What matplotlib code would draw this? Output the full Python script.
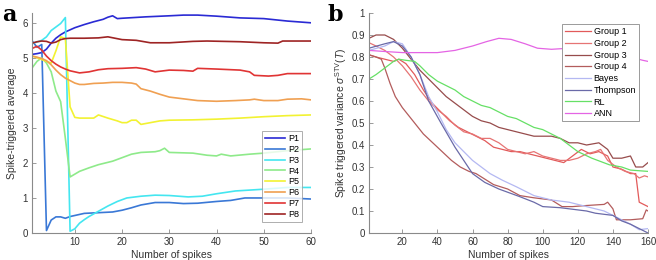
import matplotlib
matplotlib.use("Agg")
import matplotlib.pyplot as plt

plt.rcParams['font.family'] = ['Liberation Sans', 'DejaVu Sans']
plt.rcParams['mathtext.fontset'] = 'custom'
plt.rcParams['mathtext.rm'] = 'Liberation Sans'
plt.rcParams['mathtext.it'] = 'Liberation Sans:italic'

# ---- panel a: spike-triggered average per participant ----
p1_x = [1, 2, 3, 4, 5, 6, 7, 8, 9, 10, 12, 14, 16, 17, 18, 19, 20, 25, 30, 33, 36, 40, 45, 50, 55, 60]
p1_y = [5.1, 5.12, 5.15, 5.25, 5.42, 5.56, 5.66, 5.74, 5.8, 5.86, 5.95, 6.03, 6.1, 6.16, 6.2, 6.12, 6.13,
        6.17, 6.2, 6.22, 6.22, 6.19, 6.14, 6.12, 6.05, 6.0]
p2_x = [1, 2, 3, 4, 5, 6, 7, 8, 9, 10, 12, 15, 18, 20, 22, 24, 27, 30, 33, 36, 40, 43, 46, 50, 55, 60]
p2_y = [5.48, 5.3, 5.38, 0.07, 0.37, 0.46, 0.46, 0.42, 0.47, 0.5, 0.56, 0.58, 0.6, 0.65, 0.72, 0.8, 0.87,
        0.87, 0.84, 0.85, 0.9, 0.93, 1.0, 1.0, 1.0, 0.97]
p3_x = [1, 2, 3, 4, 5, 6, 7, 8, 9, 10, 11, 12, 13, 15, 17, 19, 21, 24, 27, 30, 34, 37, 40, 44, 50, 55, 60]
p3_y = [5.42, 5.45, 5.5, 5.6, 5.78, 5.88, 5.98, 6.15, 0.05, 0.12, 0.28, 0.38, 0.47, 0.62, 0.77, 0.9, 1.0,
        1.05, 1.08, 1.07, 1.03, 1.05, 1.12, 1.2, 1.25, 1.3, 1.3]
p4_x = [1, 2, 3, 4, 5, 6, 7, 8, 9, 10, 11, 13, 15, 18, 20, 22, 24, 27, 28, 29, 30, 35, 38, 40, 41, 43,
        47, 50, 55, 60]
p4_y = [4.72, 4.9, 5.0, 4.85, 4.6, 4.05, 3.75, 2.7, 1.6, 1.68, 1.76, 1.86, 1.95, 2.05, 2.15, 2.25, 2.3,
        2.32, 2.35, 2.42, 2.3, 2.28, 2.22, 2.2, 2.25, 2.2, 2.25, 2.28, 2.35, 2.4]
p5_x = [1, 2, 3, 4, 5, 6, 7, 8, 9, 10, 11, 14, 15, 17, 19, 20, 21, 22, 23, 24, 26, 28, 30, 35, 40, 45,
        50, 55, 60]
p5_y = [5.05, 5.0, 4.95, 4.9, 4.85, 5.2, 5.6, 5.55, 3.6, 3.3, 3.28, 3.28, 3.37, 3.28, 3.2, 3.15, 3.15,
        3.22, 3.22, 3.1, 3.15, 3.2, 3.22, 3.23, 3.25, 3.28, 3.32, 3.35, 3.37]
p6_x = [1, 2, 3, 4, 5, 6, 7, 8, 9, 10, 11, 12, 14, 16, 18, 20, 22, 23, 24, 26, 28, 30, 33, 36, 40, 44,
        47, 48, 50, 53, 55, 58, 60]
p6_y = [5.05, 5.02, 4.98, 4.92, 4.8, 4.65, 4.52, 4.42, 4.35, 4.28, 4.24, 4.24, 4.27, 4.28, 4.3, 4.3,
        4.28, 4.25, 4.12, 4.05, 3.96, 3.88, 3.83, 3.78, 3.76, 3.78, 3.8, 3.82, 3.78, 3.78, 3.82, 3.83, 3.8]
p7_x = [1, 2, 3, 4, 5, 6, 7, 8, 9, 11, 13, 15, 17, 20, 23, 25, 27, 30, 33, 35, 36, 40, 45, 47, 48, 51,
        53, 55, 60]
p7_y = [5.27, 5.33, 5.22, 5.05, 4.92, 4.82, 4.74, 4.68, 4.63, 4.57, 4.6, 4.66, 4.69, 4.7, 4.72, 4.68,
        4.6, 4.65, 4.64, 4.62, 4.7, 4.68, 4.65, 4.6, 4.5, 4.48, 4.5, 4.55, 4.55]
p8_x = [1, 2, 3, 4, 5, 6, 7, 8, 9, 12, 15, 17, 20, 23, 26, 30, 35, 38, 45, 50, 53, 54, 60]
p8_y = [5.42, 5.46, 5.48, 5.47, 5.42, 5.45, 5.52, 5.55, 5.56, 5.56, 5.57, 5.6, 5.52, 5.5, 5.43, 5.43,
        5.47, 5.48, 5.46, 5.43, 5.42, 5.48, 5.48]

a_labels = ['P1', 'P2', 'P3', 'P4', 'P5', 'P6', 'P7', 'P8']
a_colors = ['#2a2ad4', '#3a78d6', '#44e6f0', '#8eea8a', '#f2f232', '#f0a052', '#e03434', '#9e2424']

# ---- panel b: spike triggered variance per group / model ----
g1_x = [1, 5, 10, 15, 18, 22, 27, 32, 37, 42, 47, 52, 57, 62, 67, 72, 77, 82, 87, 92, 97, 102, 107,
        112, 117, 122, 127, 132, 137, 140, 145, 150, 153, 155, 160]
g1_y = [0.81, 0.8, 0.79, 0.78, 0.79, 0.77, 0.72, 0.65, 0.59, 0.55, 0.51, 0.48, 0.46, 0.44, 0.42, 0.39,
        0.38, 0.37, 0.37, 0.36, 0.35, 0.34, 0.33, 0.32, 0.35, 0.38, 0.36, 0.37, 0.35, 0.3, 0.29, 0.27,
        0.27, 0.14, 0.12]
g2_x = [1, 5, 10, 15, 20, 25, 30, 35, 40, 45, 50, 55, 60, 65, 70, 75, 80, 85, 90, 95, 100, 105, 110,
        115, 120, 125, 130, 133, 137, 142, 147, 152, 155, 158, 160]
g2_y = [0.865, 0.85, 0.83, 0.8, 0.76, 0.71, 0.65, 0.6, 0.56, 0.53, 0.49, 0.46, 0.45, 0.43, 0.43, 0.41,
        0.38, 0.37, 0.36, 0.37, 0.35, 0.34, 0.33, 0.33, 0.34, 0.36, 0.37, 0.38, 0.33, 0.3, 0.28, 0.27,
        0.25, 0.26, 0.255]
g3_x = [1, 5, 10, 15, 20, 25, 30, 35, 40, 45, 50, 55, 60, 65, 70, 75, 80, 85, 90, 95, 100, 105, 110,
        115, 120, 125, 132, 137, 140, 145, 150, 153, 157, 160]
g3_y = [0.885, 0.9, 0.9, 0.88, 0.84, 0.79, 0.74, 0.7, 0.66, 0.62, 0.59, 0.56, 0.53, 0.51, 0.5, 0.48,
        0.47, 0.46, 0.45, 0.44, 0.44, 0.44, 0.43, 0.41, 0.41, 0.4, 0.41, 0.38, 0.34, 0.34, 0.35, 0.3,
        0.3, 0.32]
g4_x = [1, 5, 8, 10, 13, 16, 20, 24, 28, 32, 36, 40, 44, 48, 53, 58, 62, 66, 72, 80, 87, 95, 105, 111,
        117, 125, 135, 137, 140, 142, 150, 157, 159, 160]
g4_y = [0.81, 0.8, 0.79, 0.75, 0.68, 0.62, 0.57, 0.53, 0.49, 0.45, 0.42, 0.39, 0.36, 0.33, 0.3, 0.28,
        0.27, 0.25, 0.22, 0.2, 0.17, 0.16, 0.15, 0.12, 0.12, 0.125, 0.13, 0.14, 0.11, 0.06, 0.06, 0.065,
        0.105, 0.1]
bayes_x = [1, 10, 15, 20, 25, 30, 35, 40, 45, 50, 55, 60, 65, 70, 77, 85, 90, 95, 100, 105, 115, 120,
           125, 135, 140, 145, 150, 155, 160]
bayes_y = [0.83, 0.85, 0.87, 0.86, 0.8, 0.72, 0.62, 0.55, 0.47, 0.41, 0.37, 0.33, 0.3, 0.27, 0.24, 0.21,
           0.19, 0.17, 0.16, 0.15, 0.14, 0.13, 0.12, 0.1, 0.08, 0.06, 0.04, 0.015, 0.02]
thomp_x = [1, 10, 15, 20, 25, 30, 35, 42, 50, 55, 60, 67, 75, 87, 95, 100, 110, 115, 125, 130, 140, 145,
           150, 155, 160]
thomp_y = [0.84, 0.86, 0.87, 0.85, 0.8, 0.72, 0.6, 0.5, 0.39, 0.33, 0.27, 0.23, 0.2, 0.165, 0.14, 0.12,
           0.115, 0.11, 0.1, 0.09, 0.08, 0.055, 0.04, 0.02, 0.0]
rl_x = [1, 5, 10, 15, 18, 22, 27, 30, 35, 40, 45, 50, 55, 60, 65, 70, 75, 80, 85, 90, 95, 100, 105, 110,
        115, 120, 128, 138, 145, 150, 155, 160]
rl_y = [0.7, 0.72, 0.75, 0.78, 0.79, 0.785, 0.78, 0.76, 0.72, 0.69, 0.67, 0.65, 0.62, 0.6, 0.58, 0.57,
        0.55, 0.53, 0.52, 0.5, 0.48, 0.47, 0.45, 0.43, 0.4, 0.37, 0.34, 0.31, 0.3, 0.286, 0.283, 0.28]
ann_x = [1, 10, 20, 30, 40, 50, 60, 68, 75, 82, 90, 97, 105, 115, 120, 140, 150, 157, 160]
ann_y = [0.83, 0.825, 0.82, 0.82, 0.82, 0.83, 0.85, 0.87, 0.885, 0.88, 0.86, 0.84, 0.835, 0.84, 0.84,
         0.82, 0.8, 0.785, 0.78]

b_labels = ['Group 1', 'Group 2', 'Group 3', 'Group 4', 'Bayes', 'Thompson', 'RL', 'ANN']
b_colors = ['#e25a5a', '#e67474', '#974c4c', '#b35c5c', '#b4b8f2', '#6a6aa8', '#66e066', '#e464e4']

a_series = [(p1_x, p1_y), (p2_x, p2_y), (p3_x, p3_y), (p4_x, p4_y),
            (p5_x, p5_y), (p6_x, p6_y), (p7_x, p7_y), (p8_x, p8_y)]
b_series = [(g1_x, g1_y), (g2_x, g2_y), (g3_x, g3_y), (g4_x, g4_y),
            (bayes_x, bayes_y), (thomp_x, thomp_y), (rl_x, rl_y), (ann_x, ann_y)]

fig = plt.figure(figsize=(6.56, 2.6), dpi=100)
ax_a = fig.add_axes([32.3 / 656, 27 / 260, (311 - 32.3) / 656, 220 / 260])
ax_b = fig.add_axes([369 / 656, 27 / 260, (648 - 369) / 656, 220 / 260])


def style(ax):
    for s in ['top', 'right']:
        ax.spines[s].set_visible(False)
    for s in ['left', 'bottom']:
        ax.spines[s].set_color('#8a8a8a')
        ax.spines[s].set_linewidth(0.8)
    ax.tick_params(direction='in', length=3, width=0.6, colors='#8a8a8a',
                   labelcolor='#333333', labelsize=7, pad=3)


for (xs, ys), lab, c in zip(a_series, a_labels, a_colors):
    ax_a.plot(xs, ys, color=c, lw=1.2, label=lab)
ax_a.set_xlim(1, 60)
ax_a.set_ylim(0, 6.28)
ax_a.set_xticks([10, 20, 30, 40, 50, 60])
ax_a.set_yticks([0, 1, 2, 3, 4, 5, 6])
style(ax_a)
ax_a.set_xlabel('Number of spikes', fontsize=7.5, color='#333333', labelpad=2)
ax_a.set_ylabel('Spike-triggered average', fontsize=7.5, color='#333333', labelpad=4)
leg_a = ax_a.legend(loc='lower right', bbox_to_anchor=(0.985, 0.03), fontsize=6.5, frameon=True,
                    fancybox=False, edgecolor='#9a9a9a', handlelength=2.2, handletextpad=0.3,
                    labelspacing=0.2, borderpad=0.35)
leg_a.get_frame().set_linewidth(0.7)

for (xs, ys), lab, c in zip(b_series, b_labels, b_colors):
    ax_b.plot(xs, ys, color=c, lw=0.9, label=lab)
ax_b.set_xlim(1, 160)
ax_b.set_ylim(0, 1)
ax_b.set_xticks([20, 40, 60, 80, 100, 120, 140, 160])
ax_b.set_yticks([0, 0.1, 0.2, 0.3, 0.4, 0.5, 0.6, 0.7, 0.8, 0.9, 1])
ax_b.set_yticklabels(['0', '0.1', '0.2', '0.3', '0.4', '0.5', '0.6', '0.7', '0.8', '0.9', '1'])
style(ax_b)
ax_b.set_xlabel('Number of spikes', fontsize=7.5, color='#333333', labelpad=2)
ax_b.set_ylabel(r'Spike triggered variance $\sigma^{\mathrm{STV}}(T)$', fontsize=7.5,
                color='#333333', labelpad=2)
leg_b = ax_b.legend(loc='upper right', bbox_to_anchor=(0.985, 0.97), fontsize=6.5, frameon=True,
                    fancybox=False, edgecolor='#9a9a9a', handlelength=2.9, handletextpad=0.3,
                    labelspacing=0.3, borderpad=0.35, framealpha=1)
leg_b.get_frame().set_linewidth(0.7)

fig.text(0.004, 0.985, 'a', fontsize=16, fontweight='bold', family='DejaVu Serif', va='top')
fig.text(0.499, 0.985, 'b', fontsize=16, fontweight='bold', family='DejaVu Serif', va='top')

fig.savefig('out.png', dpi=100)
